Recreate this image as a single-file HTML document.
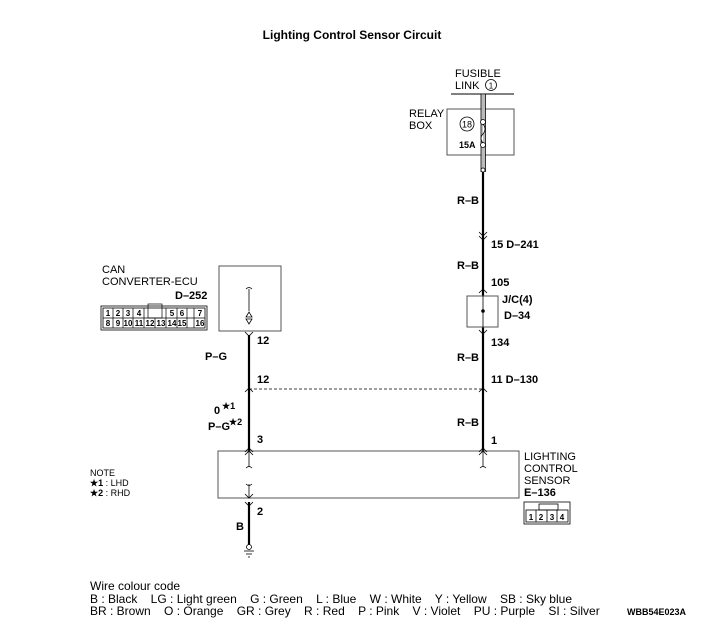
<!DOCTYPE html>
<html><head><style>
html,body{margin:0;padding:0;background:#fff;width:701px;height:623px;overflow:hidden}
svg{display:block;font-family:"Liberation Sans",sans-serif;}
text{fill:#000}
.s{font-size:11px}
.b{font-size:11px;font-weight:bold}
</style></head><body>
<svg width="701" height="623" viewBox="0 0 701 623">
<text x="352" y="39" text-anchor="middle" font-size="12" font-weight="bold">Lighting Control Sensor Circuit</text>

<text x="455" y="77" class="s">FUSIBLE</text>
<text x="455" y="89" class="s">LINK</text>
<circle cx="491" cy="85" r="5.5" fill="none" stroke="#000" stroke-width="0.8"/>
<text x="491" y="88.5" font-size="8" text-anchor="middle">1</text>
<line x1="451" y1="94" x2="514" y2="94" stroke="#000" stroke-width="1"/>
<rect x="447" y="109" width="67" height="46" fill="none" stroke="#555" stroke-width="1"/>
<text x="409" y="117" class="s">RELAY</text>
<text x="409" y="129" class="s">BOX</text>
<circle cx="467" cy="124" r="7" fill="none" stroke="#000" stroke-width="0.8"/>
<text x="467" y="127.5" font-size="9" text-anchor="middle">18</text>
<text x="459" y="148" font-size="9" font-weight="bold">15A</text>
<line x1="481" y1="94" x2="481" y2="172" stroke="#000" stroke-width="0.8"/>
<line x1="485.5" y1="94" x2="485.5" y2="172" stroke="#000" stroke-width="0.8"/>
<rect x="481.5" y="95" width="3.5" height="76" fill="#bbb"/>
<circle cx="483" cy="122" r="2.5" fill="#fff" stroke="#000" stroke-width="0.8"/>
<circle cx="483" cy="145" r="2.5" fill="#fff" stroke="#000" stroke-width="0.8"/>
<path d="M483 124 q4 5 0 10 q-4 4 0 9" fill="#fff" stroke="#000" stroke-width="0.8"/>
<circle cx="483" cy="170" r="2" fill="#fff" stroke="#000" stroke-width="0.8"/>

<line x1="483" y1="172" x2="483" y2="296" stroke="#000" stroke-width="2.2"/>
<line x1="483" y1="327" x2="483" y2="451" stroke="#000" stroke-width="2.2"/>
<text x="457" y="204" class="b">R–B</text>
<path d="M479 232 l4 4 l4 -4 M479 236 l4 4 l4 -4" fill="none" stroke="#000" stroke-width="0.8"/>
<text x="491" y="248" class="b">15 D–241</text>
<text x="457" y="269" class="b">R–B</text>
<text x="491" y="286" class="b">105</text>
<path d="M479 293 l4 -4 l4 4" fill="none" stroke="#000" stroke-width="0.8"/>
<rect x="467" y="296" width="31" height="31" fill="none" stroke="#555" stroke-width="1"/>
<line x1="483" y1="296" x2="483" y2="327" stroke="#000" stroke-width="0.8"/>
<circle cx="483" cy="311" r="1.8" fill="#000"/>
<text x="502" y="303" class="b">J/C(4)</text>
<text x="504" y="319" class="b">D–34</text>
<path d="M479 330 l4 4 l4 -4" fill="none" stroke="#000" stroke-width="0.8"/>
<text x="491" y="346" class="b">134</text>
<text x="457" y="361" class="b">R–B</text>
<text x="491" y="383" class="b">11 D–130</text>
<path d="M479 392 l4 -4 l4 4" fill="none" stroke="#000" stroke-width="0.8"/>
<line x1="249" y1="389" x2="483" y2="389" stroke="#000" stroke-width="0.8" stroke-dasharray="3,2"/>
<text x="457" y="426" class="b">R–B</text>
<text x="491" y="444" class="b">1</text>

<text x="102" y="273" class="s">CAN</text>
<text x="102" y="285" class="s">CONVERTER-ECU</text>
<text x="175" y="299" class="b">D–252</text>
<g stroke="#000" stroke-width="0.8" fill="none">
<rect x="101" y="306" width="106" height="24"/>
<rect x="103" y="308" width="102" height="20"/>
<line x1="103" y1="318" x2="205" y2="318"/>
</g>
<g font-weight="bold" text-anchor="middle">
<text x="108" y="316" font-size="8">1</text><text x="118" y="316" font-size="8">2</text><text x="128" y="316" font-size="8">3</text><text x="139" y="316" font-size="8">4</text>
<text x="172" y="316" font-size="8">5</text><text x="182" y="316" font-size="8">6</text><text x="200" y="316" font-size="8">7</text>
<text x="108" y="326" font-size="8">8</text><text x="118" y="326" font-size="8">9</text><text x="128" y="326" font-size="8">10</text><text x="139" y="326" font-size="8">11</text><text x="150" y="326" font-size="8">12</text><text x="161" y="326" font-size="8">13</text><text x="172" y="326" font-size="8">14</text><text x="182" y="326" font-size="8">15</text><text x="200" y="326" font-size="8">16</text>
</g>
<g stroke="#000" stroke-width="0.7" fill="none">
<line x1="113" y1="308" x2="113" y2="328"/><line x1="123" y1="308" x2="123" y2="328"/><line x1="133" y1="308" x2="133" y2="328"/><line x1="144" y1="308" x2="144" y2="328"/>
<line x1="155" y1="318" x2="155" y2="328"/><line x1="166" y1="308" x2="166" y2="328"/><line x1="177" y1="308" x2="177" y2="328"/><line x1="187" y1="308" x2="187" y2="328"/><line x1="194" y1="308" x2="194" y2="328"/>
<rect x="148" y="304" width="14" height="14"/>
</g>
<rect x="219" y="266" width="62" height="65" fill="none" stroke="#555" stroke-width="1"/>
<path d="M246 289 q3 -3 6 0" fill="none" stroke="#000" stroke-width="0.8"/>
<line x1="249" y1="289" x2="249" y2="311" stroke="#000" stroke-width="0.8"/>
<path d="M246 317 l3 -5 l3 5 z M246 319 l3 5 l3 -5 z" fill="none" stroke="#000" stroke-width="0.8"/>
<path d="M245 332 l4 4 l4 -4" fill="none" stroke="#000" stroke-width="0.8"/>
<line x1="249" y1="335" x2="249" y2="451" stroke="#000" stroke-width="2.2"/>
<text x="257" y="344" class="b">12</text>
<text x="205" y="360" class="b">P–G</text>
<text x="257" y="383" class="b">12</text>
<path d="M245 392 l4 -4 l4 4" fill="none" stroke="#000" stroke-width="0.8"/>
<text x="214" y="414" class="b">0</text><text x="222" y="409" font-size="9" font-weight="bold">★1</text>
<text x="208" y="430" class="b">P–G</text><text x="229" y="425" font-size="9" font-weight="bold">★2</text>
<text x="257" y="443" class="b">3</text>

<rect x="218" y="451" width="301" height="47" fill="none" stroke="#555" stroke-width="1"/>
<g stroke="#000" stroke-width="0.8" fill="none">
<path d="M245 455 l4 -4 l4 4 M245 452 l4 -4 l4 4"/>
<line x1="249" y1="451" x2="249" y2="467"/><path d="M246 468 q3 -3 6 0"/>
<path d="M246 484 q3 3 6 0"/><line x1="249" y1="484" x2="249" y2="498"/>
<path d="M245 494 l4 4 l4 -4"/>
<path d="M479 455 l4 -4 l4 4 M479 452 l4 -4 l4 4"/>
<line x1="483" y1="451" x2="483" y2="467"/><path d="M480 468 q3 -3 6 0"/>
<path d="M245 502 l4 4 l4 -4"/>
</g>
<line x1="249" y1="502" x2="249" y2="545" stroke="#000" stroke-width="2.2"/>
<text x="257" y="515" class="b">2</text>
<text x="236" y="530" class="b">B</text>
<circle cx="249" cy="547" r="2.5" fill="#fff" stroke="#000" stroke-width="0.8"/>
<line x1="244" y1="551" x2="254" y2="551" stroke="#000" stroke-width="0.8"/>
<line x1="246" y1="554" x2="252" y2="554" stroke="#000" stroke-width="0.8"/>
<line x1="248" y1="557" x2="250" y2="557" stroke="#000" stroke-width="0.8"/>

<text x="524" y="460" class="s">LIGHTING</text>
<text x="524" y="472" class="s">CONTROL</text>
<text x="524" y="484" class="s">SENSOR</text>
<text x="524" y="496" class="b">E–136</text>
<g stroke="#000" stroke-width="0.8" fill="none">
<rect x="524" y="502" width="46" height="22"/>
<rect x="526" y="510" width="42" height="12"/>
<rect x="539" y="504" width="19" height="6"/>
<line x1="536" y1="510" x2="536" y2="522"/><line x1="547" y1="510" x2="547" y2="522"/><line x1="557" y1="510" x2="557" y2="522"/>
</g>
<text x="531" y="520" font-size="8" font-weight="bold" text-anchor="middle">1</text>
<text x="541" y="520" font-size="8" font-weight="bold" text-anchor="middle">2</text>
<text x="552" y="520" font-size="8" font-weight="bold" text-anchor="middle">3</text>
<text x="562" y="520" font-size="8" font-weight="bold" text-anchor="middle">4</text>

<text x="90" y="476" font-size="9">NOTE</text>
<text x="90" y="486" font-size="9"><tspan font-weight="bold">★1</tspan> : LHD</text>
<text x="90" y="496" font-size="9"><tspan font-weight="bold">★2</tspan> : RHD</text>

<text x="90" y="590" font-size="12">Wire colour code</text>
<text x="90" y="603" font-size="12" xml:space="preserve">B : Black    LG : Light green    G : Green    L : Blue    W : White    Y : Yellow    SB : Sky blue</text>
<text x="90" y="615" font-size="12" xml:space="preserve">BR : Brown    O : Orange    GR : Grey    R : Red    P : Pink    V : Violet    PU : Purple    SI : Silver</text>
<text x="627" y="615" font-size="9" font-weight="bold">WBB54E023A</text>
</svg>
</body></html>
